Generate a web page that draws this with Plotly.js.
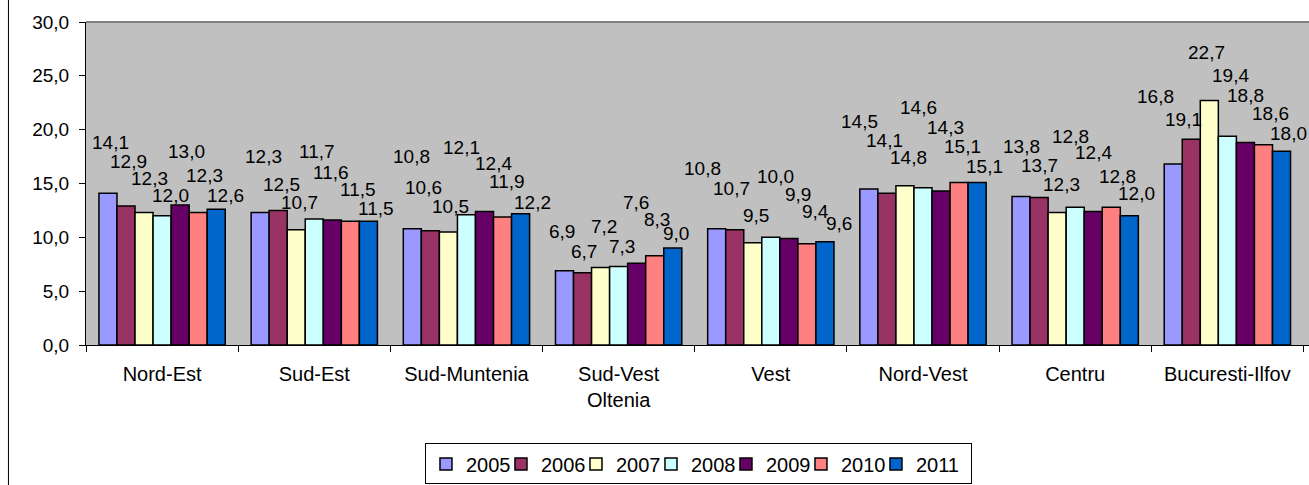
<!DOCTYPE html>
<html>
<head>
<meta charset="utf-8">
<script src="https://cdn.plot.ly/plotly-3.0.1.min.js"></script>
<style>
html,body{margin:0;padding:0;background:#fff;}
#chart{width:1309px;height:485px;}
</style>
</head>
<body>
<div id="chart"></div>
<script>
// ---- data ----
var regions = ["Nord-Est", "Sud-Est", "Sud-Muntenia", "Sud-Vest<br>Oltenia", "Vest", "Nord-Vest", "Centru", "Bucuresti-Ilfov"];
var years = ["2005", "2006", "2007", "2008", "2009", "2010", "2011"];
var v2005 = [14.1, 12.3, 10.8, 6.9, 10.8, 14.5, 13.8, 16.8];
var v2006 = [12.9, 12.5, 10.6, 6.7, 10.7, 14.1, 13.7, 19.1];
var v2007 = [12.3, 10.7, 10.5, 7.2, 9.5, 14.8, 12.3, 22.7];
var v2008 = [12.0, 11.7, 12.1, 7.3, 10.0, 14.6, 12.8, 19.4];
var v2009 = [13.0, 11.6, 12.4, 7.6, 9.9, 14.3, 12.4, 18.8];
var v2010 = [12.3, 11.5, 11.9, 8.3, 9.4, 15.1, 12.8, 18.6];
var v2011 = [12.6, 11.5, 12.2, 9.0, 9.6, 15.1, 12.0, 18.0];
var series = [v2005, v2006, v2007, v2008, v2009, v2010, v2011];

// ---- styling ----
var colors = ["#9999ff", "#993366", "#ffffcc", "#ccffff", "#660066", "#ff8080", "#0066cc"];
// label placement (pixel offsets of each value label above its bar, as in the original)
var labelLift = [
  [51, 56, 72, 39, 60, 67, 50, 68],
  [45, 26, 43, 21, 41, 53, 32, 20],
  [34, 27, 25, 41, 27, 28, 28, 48],
  [20, 68, 67, 20, 61, 80, 71, 61],
  [54, 48, 48, 61, 44, 64, 59, 47],
  [37, 32, 35, 36, 32, 36, 31, 31],
  [14, 13, 11, 15, 18, 16, 22, 18]
];
var labelNudge = [
  [3, 3, -1, -3, -14, -9, 0, -18],
  [2, 3, -7, 1, -3, -2, 0, -8],
  [5, 3, 2, 3, 3, 4, 4, -3],
  [8, 3, -5, 3, 5, -5, -5, 3],
  [6, -1, 9, -1, 9, 4, 0, 0],
  [6, 8, 4, 2, 9, 3, 6, 7],
  [9, 8, 12, 3, 14, 7, 7, 7]
];
var FONT = "Liberation Sans, Arial, sans-serif";
var bargap = 0.17;

var traces = series.map(function (vals, s) {
  return {
    type: "bar",
    name: years[s],
    x: regions,
    y: vals,
    legendwidth: (s === series.length - 1) ? 50 : 30,
    marker: { color: colors[s], line: { color: "#000", width: 1.5 } },
    hoverinfo: "x+y+name"
  };
});

var nS = series.length;
var slot = (1 - bargap) / nS;
var annotations = [];
series.forEach(function (vals, s) {
  vals.forEach(function (v, i) {
    annotations.push({
      x: i + (s - (nS - 1) / 2) * slot,
      y: v,
      xref: "x", yref: "y",
      text: v.toFixed(1).replace(".", ","),
      showarrow: false,
      xanchor: "center", yanchor: "middle",
      xshift: labelNudge[s][i],
      yshift: labelLift[s][i],
      font: { family: FONT, size: 19, color: "#000" }
    });
  });
});

var layout = {
  width: 1309, height: 485,
  margin: { l: 86, r: 0, t: 22, b: 138, pad: 0 },
  paper_bgcolor: "#ffffff",
  plot_bgcolor: "#c0c0c0",
  separators: ",.",
  font: { family: FONT, size: 19, color: "#000" },
  barmode: "group",
  bargap: bargap,
  bargroupgap: 0,
  showlegend: true,
  legend: {
    orientation: "h",
    x: 0.5008, xanchor: "center",
    y: -0.3046, yanchor: "top",
    bgcolor: "#ffffff",
    bordercolor: "#000", borderwidth: 1,
    font: { family: FONT, size: 20, color: "#000" },
    entrywidth: 30, entrywidthmode: "pixels",
    traceorder: "normal"
  },
  xaxis: {
    type: "category",
    showline: true, linecolor: "#000", linewidth: 1,
    ticks: "outside", tickson: "boundaries", ticklen: 6, tickcolor: "#000", tickwidth: 1,
    showgrid: false, zeroline: false,
    tickfont: { family: FONT, size: 20, color: "#000" },
    ticklabelstandoff: 11,
    fixedrange: true
  },
  yaxis: {
    range: [0, 30], tick0: 0, dtick: 5,
    tickformat: ".1f",
    showline: true, linecolor: "#000", linewidth: 1,
    ticks: "outside", ticklen: 6, tickcolor: "#000", tickwidth: 1,
    showgrid: false, zeroline: false,
    tickfont: { family: FONT, size: 19, color: "#000" },
    ticklabelstandoff: 6,
    fixedrange: true
  },
  annotations: annotations,
  shapes: [
    { type: "line", xref: "paper", yref: "paper", x0: 0, x1: 1, y0: 1, y1: 1,
      line: { color: "#808080", width: 2 } },
    { type: "line", xref: "paper", yref: "paper", x0: -0.0634, x1: -0.0634, y0: -0.5, y1: 1.2,
      line: { color: "#000", width: 1 } }
  ]
};

Plotly.newPlot("chart", traces, layout, { displayModeBar: false, staticPlot: true });
</script>
</body>
</html>
